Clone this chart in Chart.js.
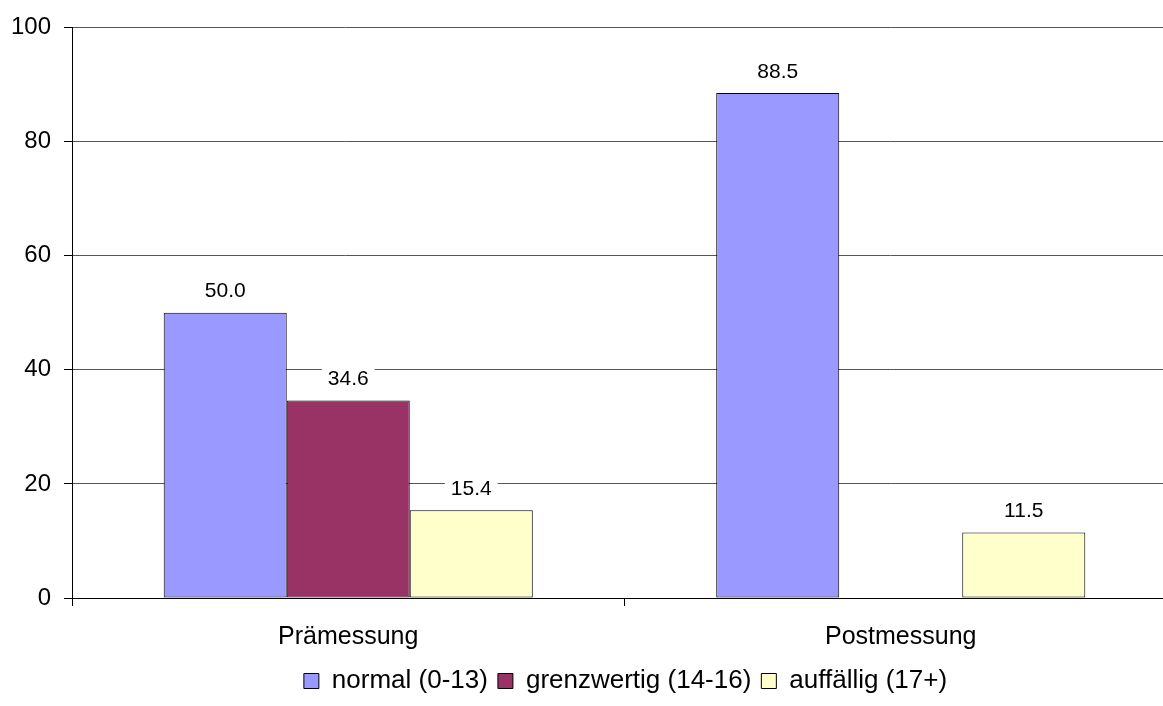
<!DOCTYPE html>
<html>
<head>
<meta charset="utf-8">
<script src="https://cdn.jsdelivr.net/npm/chart.js@4/dist/chart.umd.min.js"></script>
<style>
  html, body { margin: 0; padding: 0; background: #fff; }
  #wrap { width: 1163px; height: 706px; }
</style>
</head>
<body>
<div id="wrap"><canvas id="myChart"></canvas></div>
<script>
// categories and series
var kategorien = ['Prämessung', 'Postmessung'];
var normal = [50.0, 88.5];
var grenzwertig = [34.6, 0];
var auffaellig = [15.4, 11.5];
var yTicks = [0, 20, 40, 60, 80, 100];

var schrift = 'Arial, "Liberation Sans", sans-serif';

// draw the values above the bars (white box behind the text)
var wertePlugin = {
    id: 'werte',
    afterDatasetsDraw: function(chart)
    {
        var ctx = chart.ctx;
        ctx.save();
        ctx.font = '21px ' + schrift;
        ctx.textAlign = 'center';
        ctx.textBaseline = 'middle';
        chart.data.datasets.forEach(function(ds, i)
        {
            var meta = chart.getDatasetMeta(i);
            meta.data.forEach(function(bar, j)
            {
                var v = ds.data[j];
                if (!v) return;
                var txt = v.toFixed(1);
                var w = ctx.measureText(txt).width;
                var y = bar.y - 21;
                ctx.fillStyle = '#fff';
                ctx.fillRect(bar.x - w / 2 - 6, y - 11, w + 12, 22);
                ctx.fillStyle = '#000';
                ctx.fillText(txt, bar.x, y);
            });
        });
        ctx.restore();
    }
};

// the plot runs a bit past the right edge of the picture, legend is centred on it
var achsePlugin = {
    id: 'achse',
    afterLayout: function(chart)
    {
        var s = chart.scales.x;
        s.right = s.left + 1105;
        s.width = 1105;
        s.configure();
        chart.legend.left += 44;
        chart.legend.right += 44;
    }
};

var ctx = document.getElementById('myChart').getContext('2d');
var myChart = new Chart(ctx, {
    type: 'bar',
    data: {
        labels: kategorien,
        datasets: [
        {
            label: 'normal (0-13)',
            data: normal,
            backgroundColor: '#9999FF',
            borderColor: '#000',
            borderWidth: 1,
            borderSkipped: false
        },
        {
            label: 'grenzwertig (14-16)',
            data: grenzwertig,
            backgroundColor: '#993366',
            borderColor: '#000',
            borderWidth: 1,
            borderSkipped: false
        },
        {
            label: 'auffällig (17+)',
            data: auffaellig,
            backgroundColor: '#FFFFCC',
            borderColor: '#000',
            borderWidth: 1,
            borderSkipped: false
        }
        ]
    },
    options: {
        responsive: true,
        maintainAspectRatio: false,
        animation: false,
        layout: { padding: { top: 26, right: 0, left: 0, bottom: 2 } },
        datasets: {
            bar: { categoryPercentage: 0.668, barPercentage: 1 }
        },
        plugins: {
            legend: {
                position: 'bottom',
                labels: {
                    boxWidth: 15,
                    boxHeight: 15,
                    color: '#000',
                    padding: 10,
                    font: { size: 26, family: schrift }
                }
            },
            tooltip: { enabled: false }
        },
        scales: {
            y: {
                min: 0,
                max: 100,
                afterBuildTicks: function(axis)
                {
                    axis.ticks = yTicks.map(function(v) { return { value: v }; });
                },
                afterFit: function(axis) { axis.width = 72; },
                ticks: {
                    color: '#000',
                    padding: 13,
                    font: { size: 24, family: schrift }
                },
                grid: {
                    color: '#555',
                    tickLength: 8,
                    tickColor: '#000'
                },
                border: { color: '#000', width: 1 }
            },
            x: {
                afterFit: function(axis) { axis.height = axis.height - 10; },
                ticks: {
                    color: '#000',
                    padding: 16,
                    font: { size: 25, family: schrift }
                },
                grid: {
                    drawOnChartArea: false,
                    tickLength: 8,
                    color: '#000'
                },
                border: { color: '#000', width: 1 }
            }
        }
    },
    plugins: [wertePlugin, achsePlugin]
});
</script>
</body>
</html>
